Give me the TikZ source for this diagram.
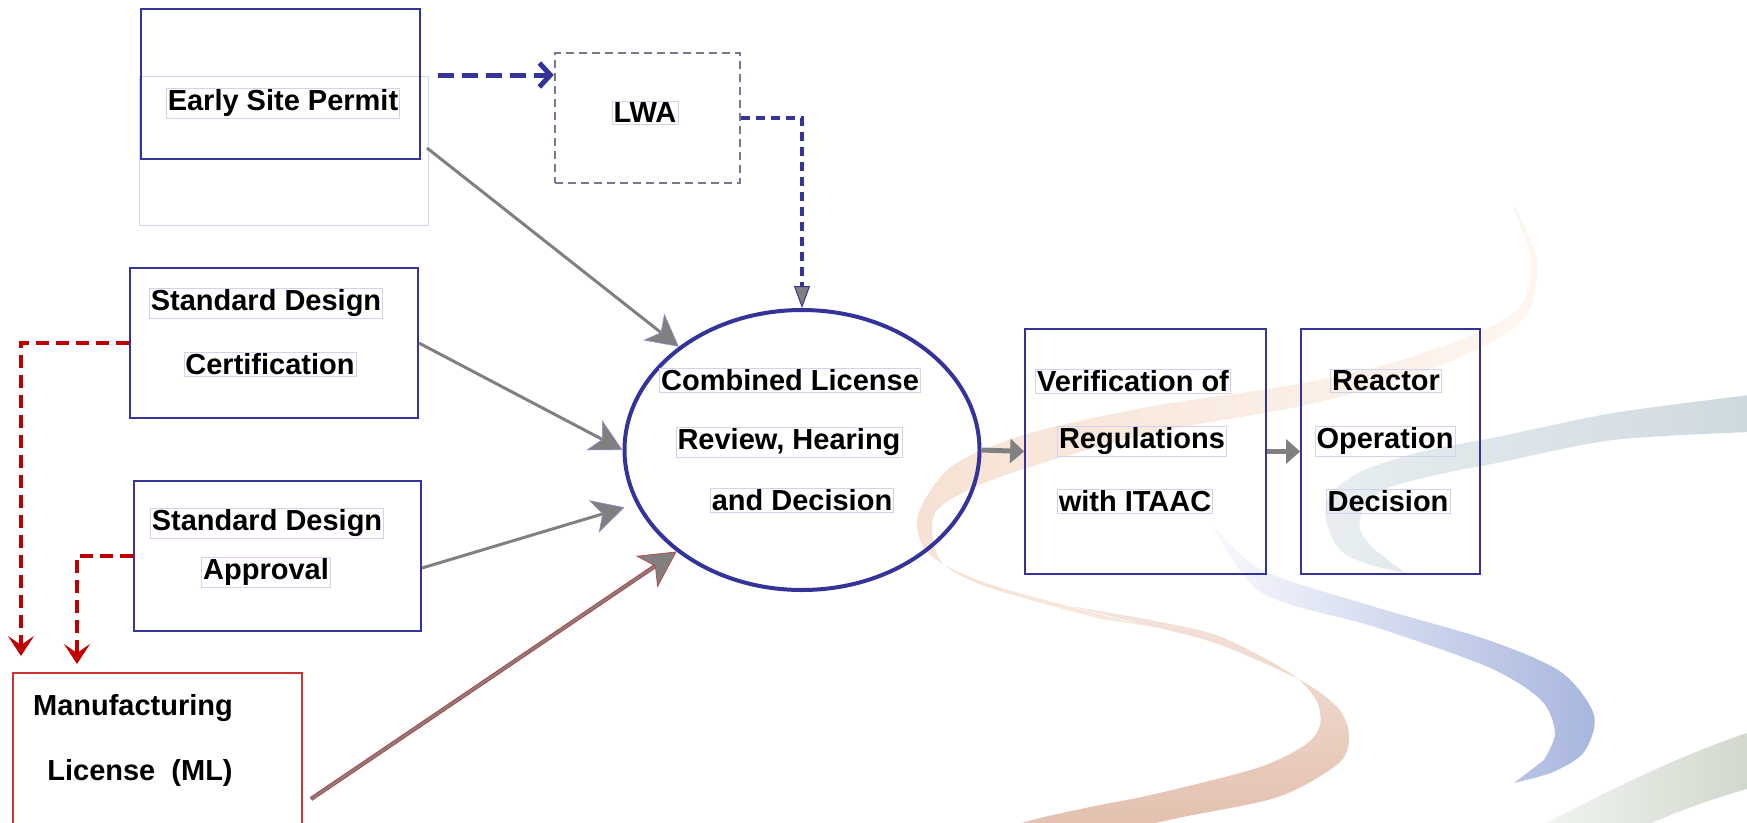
\documentclass[tikz,border=0pt]{standalone}
\usepackage{fontspec}
\setmainfont{Liberation Sans}
\usetikzlibrary{arrows.meta,shapes.geometric,calc}
\definecolor{navy}{RGB}{51,51,153}
\definecolor{lav}{RGB}{210,210,238}
\definecolor{arrgray}{RGB}{128,128,128}
\definecolor{dred}{RGB}{192,0,0}
\definecolor{mlred}{RGB}{204,51,51}
\definecolor{lwagray}{RGB}{120,120,145}
\definecolor{peachA}{RGB}{253,246,240}
\definecolor{peachB}{RGB}{246,226,212}
\definecolor{salmonA}{RGB}{244,228,220}
\definecolor{salmonB}{RGB}{226,190,172}
\definecolor{blueA}{RGB}{248,249,253}
\definecolor{blueB}{RGB}{168,182,222}
\definecolor{tealA}{RGB}{206,217,223}
\definecolor{tealB}{RGB}{232,238,241}
\definecolor{greenA}{RGB}{242,245,240}
\definecolor{greenB}{RGB}{208,216,204}
\tikzset{
  boxb/.style={draw=navy, line width=1.8pt, inner sep=0pt},
  txt/.style={font=\bfseries\fontsize{29}{34}\selectfont, draw=lav, line width=0.7pt, inner sep=1.5pt},
  garrow/.style={draw=arrgray, line width=3pt,
    -{Stealth[length=32pt,width=34pt,inset=9pt,fill=arrgray,color=navy!55,line width=0.6pt]}},
  marrow/.style={draw=arrgray, line width=2.6pt,
    -{Stealth[length=36pt,width=38pt,inset=10pt,fill=arrgray,color=mlred,line width=0.6pt]}},
  outarrow/.style={draw=arrgray, line width=5pt,
    -{Triangle[length=14pt,width=24pt,fill=arrgray,color=arrgray]}},
  reddash/.style={draw=dred, line width=4.5pt, dash pattern=on 13pt off 7pt,
    -{Stealth[length=20pt,width=26pt,inset=9pt]}},
  bluedash/.style={draw=navy, line width=5pt, dash pattern=on 16pt off 8pt,
    -{Straight Barb[length=11pt,width=24pt]}},
  lwadot/.style={draw=navy, line width=4pt, dash pattern=on 9pt off 6pt,
    -{Triangle[length=22pt,width=16pt,fill=arrgray,color=navy,line width=1pt]}}
}
\begin{document}
\begin{tikzpicture}[x=1pt,y=-1pt]
\useasboundingbox (0,0) rectangle (1747,822);
\clip (0,0) rectangle (1747,822);
% ---- background swooshes ----
\shade[left color=peachB, right color=peachA]
  plot[smooth] coordinates {(1513,206) (1531,262) (1521,306) (1476,333) (1398,361) (1298,384) (1148,407) (1027,434) (952,466) (918,515) (928,553) (983,582) (1099,614) (1160,628)}
  -- plot[smooth] coordinates {(1101,619) (987,587) (940,560) (934,515) (968,490) (1033,466) (1152,433) (1302,406) (1402,379) (1484,346) (1527,314) (1537,262) (1515,206)}
  -- cycle;
\shade[top color=salmonA, bottom color=salmonB]
  plot[smooth] coordinates {(1070,606) (1150,620) (1219,636) (1290,673) (1316,700) (1320,725) (1305,745) (1257,768) (1155,794) (1095,806) (1040,818) (990,832)}
  -- plot[smooth] coordinates {(1080,840) (1178,818) (1278,797) (1339,763) (1349,735) (1338,708) (1300,680) (1218,644) (1150,626)}
  -- cycle;
\shade[left color=blueA, right color=blueB]
  plot[smooth] coordinates {(1213,525) (1262,570) (1375,607) (1488,640) (1561,672) (1594,715) (1584,752) (1553,772) (1514,783)}
  -- plot[smooth] coordinates {(1544,760) (1555,733) (1541,700) (1488,667) (1375,627) (1262,593) (1213,527)}
  -- cycle;
\shade[left color=tealB, right color=tealA]
  plot[smooth] coordinates {(1750,395) (1613,413) (1497,437) (1420,452) (1360,472) (1330,495) (1326,520) (1340,550) (1370,565) (1405,573)}
  -- plot[smooth] coordinates {(1375,550) (1360,530) (1365,505) (1390,487) (1450,472) (1497,463) (1613,440) (1750,432)}
  -- cycle;
\shade[left color=greenA, right color=greenB]
  (1750,732) .. controls (1680,755) and (1610,790) .. (1540,826) -- (1645,826) .. controls (1680,810) and (1715,798) .. (1750,788) -- cycle;
% ---- boxes ----
\node[draw=lav, line width=1pt, minimum width=289pt, minimum height=149pt, inner sep=0pt] (espbg) at (283.5,150.5) {};
\node[boxb, minimum width=279pt, minimum height=150pt] (esp) at (280.5,84) {};
\node[draw=lwagray, line width=2.5pt, dash pattern=on 8pt off 5pt, minimum width=185pt, minimum height=130pt, inner sep=0pt] (lwa) at (647.5,118) {};
\node[boxb, minimum width=288pt, minimum height=150pt] (sdc) at (274,343) {};
\node[boxb, minimum width=287pt, minimum height=150pt] (sda) at (277.5,556) {};
\node[draw=mlred, line width=1.5pt, minimum width=289pt, minimum height=174pt, inner sep=0pt] (ml) at (157.5,760) {};
\node[ellipse, draw=navy, line width=4pt, minimum width=355pt, minimum height=280pt, inner sep=0pt] (cl) at (802,450) {};
\node[boxb, minimum width=241pt, minimum height=245pt] (ver) at (1145.5,451.5) {};
\node[boxb, minimum width=179pt, minimum height=245pt] (rea) at (1390.5,451.5) {};
% ---- texts ----
\node[txt] (t1) at (283,103) {Early Site Permit};
\node[txt] (t2) at (645,113) {LWA};
\node[txt] (t3) at (266,303) {Standard Design};
\node[txt] (t4) at (270,364) {Certification};
\node[txt] (t5) at (267,523) {Standard Design};
\node[txt] (t6) at (266,572) {Approval};
\node[font=\bfseries\fontsize{29}{34}\selectfont, inner sep=1.5pt] (t7) at (133,708) {Manufacturing};
\node[font=\bfseries\fontsize{29}{34}\selectfont, inner sep=1.5pt] (t8) at (140,773) {License\ \ (ML)};
\node[txt] (t9) at (790,380) {Combined License};
\node[txt] (t10) at (789,442) {Review, Hearing};
\node[txt] (t11) at (802,500) {and Decision};
\node[txt] (t12) at (1133,381) {Verification of};
\node[txt] (t13) at (1142,441) {Regulations};
\node[txt] (t14) at (1135,501) {with ITAAC};
\node[txt] (t15) at (1386,381) {Reactor};
\node[txt] (t16) at (1385,441) {Operation};
\node[txt] (t17) at (1388,501) {Decision};
% ---- connector end points ----
\coordinate (espout) at (427,148);
\coordinate (espr) at (438,75);
\coordinate (sdaout) at (422,568);
\coordinate (mlout) at (311,799);
\coordinate (mltip1) at (21,656);
\coordinate (mltip2) at (77,664);
% ---- connectors ----
\draw[bluedash] (espr) -- (espr -| lwa.west);
\draw[lwadot] (lwa.east) -| (cl.north);
\draw[garrow] (espout) -- (cl.140);
\draw[garrow] (sdc.east) -- (cl.180);
\draw[garrow, shorten >=12pt] (sdaout) -- (cl.198);
\draw[draw=mlred, line width=4.2pt, shorten >=26pt] (mlout) -- (cl.219);
\draw[marrow] (mlout) -- (cl.219);
\draw[reddash] (sdc.west) -| (mltip1);
\draw[reddash] (sda.west) -| (mltip2);
\draw[outarrow] (cl.east) -- (ver.west);
\draw[outarrow] (ver.east) -- (rea.west);
\end{tikzpicture}
\end{document}
